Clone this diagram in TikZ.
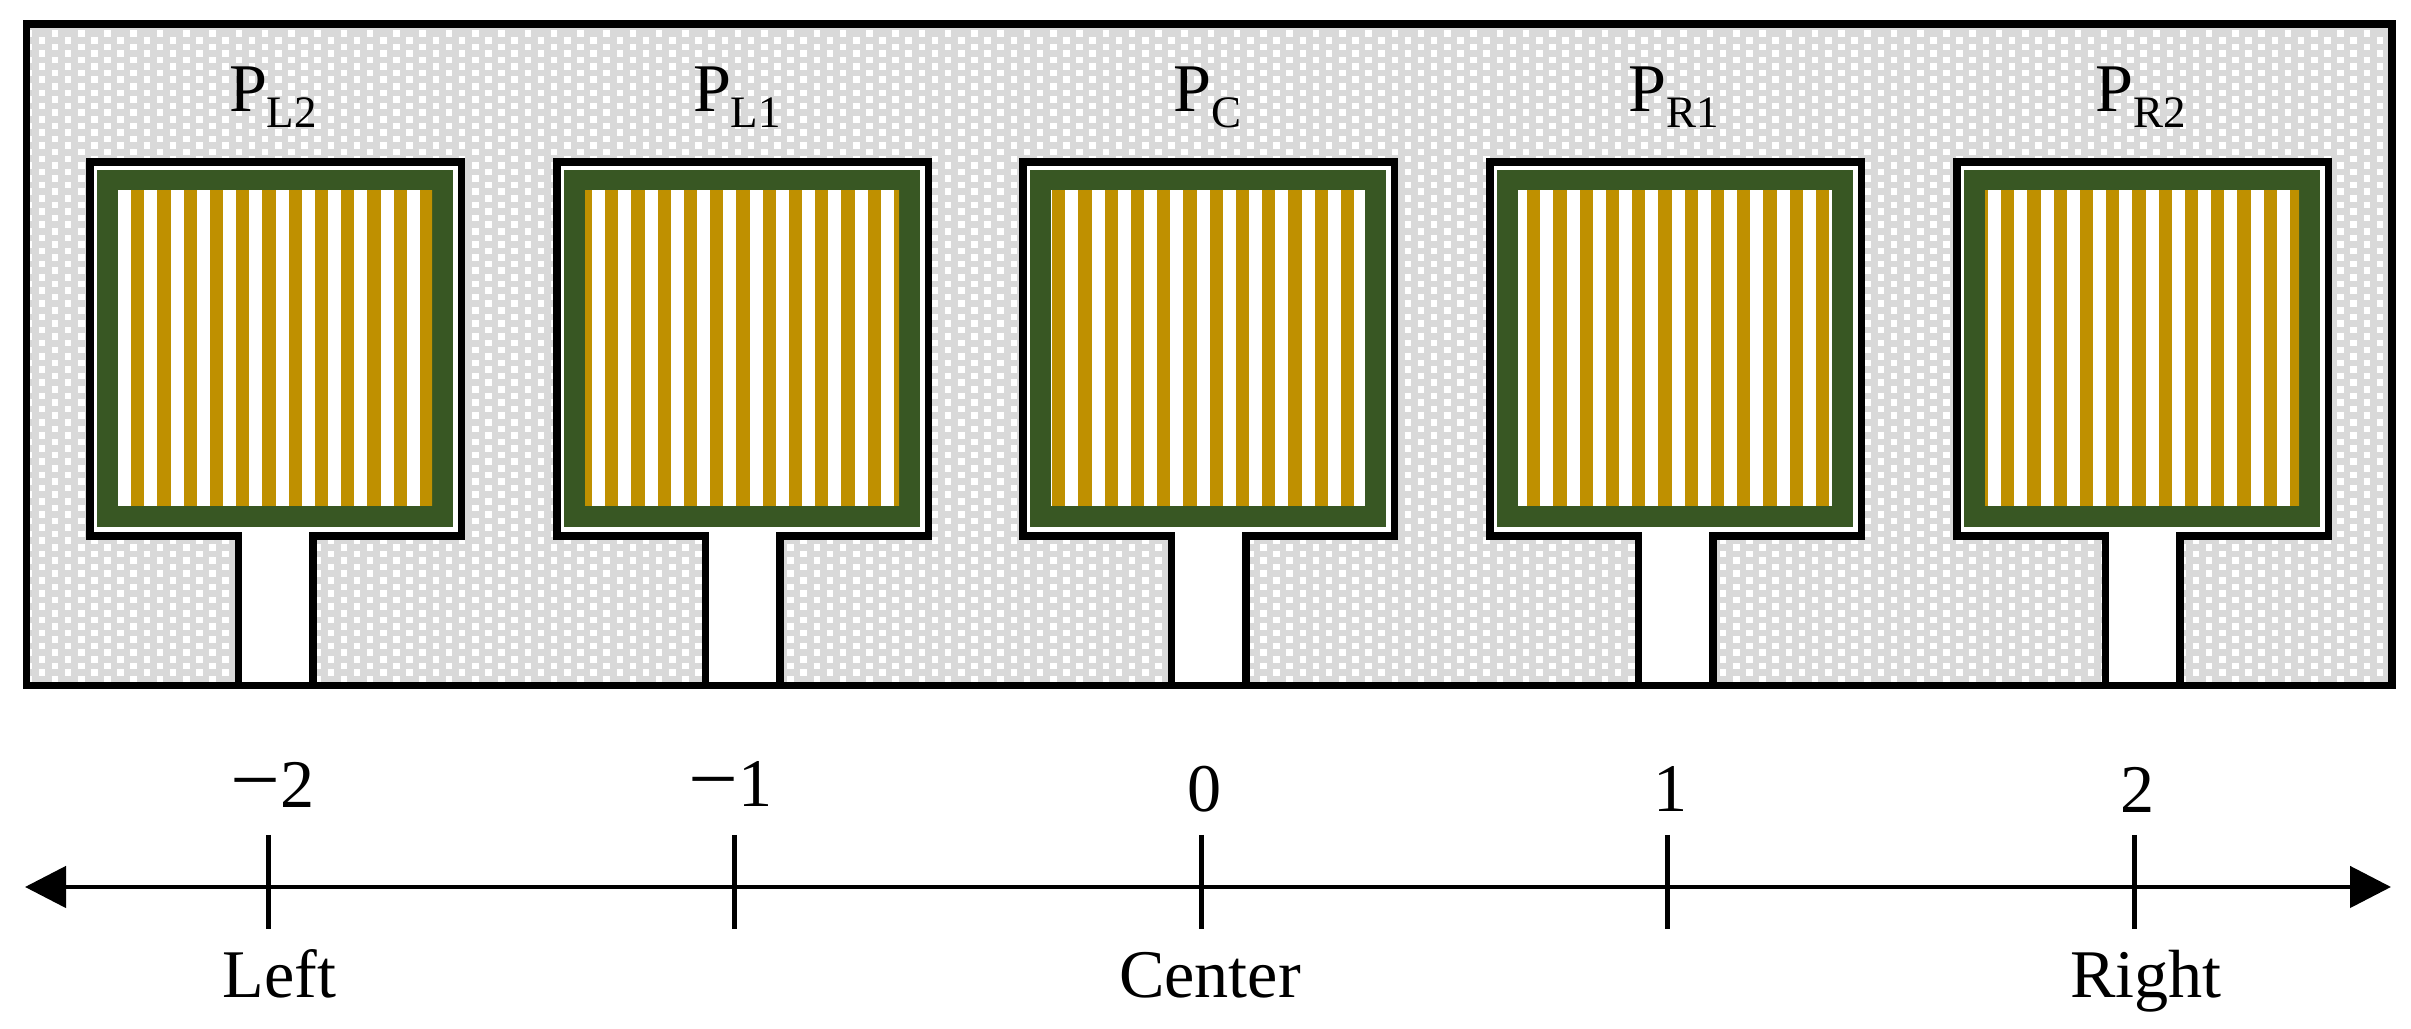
\documentclass[tikz,border=0pt]{standalone}
\usepackage{fontspec}
\setmainfont{Liberation Serif}
\usetikzlibrary{arrows.meta}
\tikzset{%%
  >={Triangle[length=0.41cm,width=0.41cm]},
  lab/.style={anchor=base,inner sep=0pt,font=\fontsize{19.4}{22}\selectfont},
  outline/.style={line width=0.078cm,black,line join=miter},
  tickline/.style={line width=0.05cm,black},
  dotrow/.style={white,line width=0.0657cm,dash pattern=on 0.0657cm off 0.197cm}
  }
\definecolor{myGray}{HTML}{D9D9D9}
\definecolor{myGreen}{HTML}{385723}
\definecolor{myGold}{HTML}{BF9000}
\newcommand{\padlab}[1]{P\raisebox{-0.16cm}{\fontsize{12.8}{14}\selectfont #1}}
\newcommand{\longminus}{\scalebox{1.3}[1.2]{−}}

\begin{document}
\begin{tikzpicture}
  \useasboundingbox (0,0) rectangle (24.11,10.29);
  % ground plane
  \fill[myGray] (0.265,3.435) rectangle (23.92,10.05);
  \begin{scope}
    \clip (0.265,3.435) rectangle (23.92,10.05);
    \foreach \row [evaluate=\row as \rowy using {9.953-0.06585*\row},
                   evaluate=\row as \rowx using {0.254-0.1313*mod(\row,2)}] in {0,...,100}
      \draw[dotrow] (\rowx,\rowy) -- (24,\rowy);
  \end{scope}
  % five patches
  \foreach \padx/\goldx in {0.86/0.13, 5.53/-0.0627, 10.19/0.01, 14.86/0.09, 19.53/-0.1027} {
    \begin{scope}[xshift=\padx cm]
      \fill[white] (0.0375,4.93) rectangle (3.755,8.67);
      \fill[white] (1.525,3.435) rectangle (2.27,4.95);
      \fill[myGreen] (0.11,5.02) rectangle (3.67,8.59);
      \fill[white] (0.32,5.23) rectangle (3.46,8.39);
      \begin{scope}
        \clip (0.32,5.23) rectangle (3.46,8.39);
        \foreach \k in {0,...,12}
          \fill[myGold] ({0.32+\goldx+0.2627*\k},5.23) rectangle ++(0.133,3.16);
      \end{scope}
      \draw[outline] (1.525,3.435)--(1.525,4.93)--(0.0375,4.93)--(0.0375,8.67)
        --(3.755,8.67)--(3.755,4.93)--(2.27,4.93)--(2.27,3.435);
    \end{scope}
  }
  \draw[outline] (0.265,3.435) rectangle (23.92,10.05);
  % patch names
  \node[lab] (labL2) at (2.73,9.17) {\padlab{L2}};
  \node[lab] (labL1) at (7.37,9.17) {\padlab{L1}};
  \node[lab] (labC) at (12.075,9.17) {\padlab{C}};
  \node[lab] (labR1) at (16.735,9.17) {\padlab{R1}};
  \node[lab] (labR2) at (21.41,9.17) {\padlab{R2}};
  % position axis
  \coordinate (axisL) at (0.25,1.42);
  \coordinate (axisR) at (23.91,1.42);
  \draw[<->,line width=0.047cm] (axisL) -- (axisR);
  \foreach \tx in {2.68,7.345,12.01,16.675,21.34}
    \draw[tickline] (\tx,1.94) -- (\tx,1.00);
  \node[lab] (numA) at (2.725,2.21) {\longminus 2};
  \node[lab] (numB) at (7.31,2.22) {\longminus 1};
  \node[lab] (numC) at (12.05,2.17) {0};
  \node[lab] (numD) at (16.71,2.17) {1};
  \node[lab] (numE) at (21.375,2.165) {2};
  \node[lab] (left) at (2.795,0.31) {Left};
  \node[lab] (center) at (12.10,0.31) {Center};
  \node[lab] (right) at (21.46,0.31) {Right};
\end{tikzpicture}
\end{document}
